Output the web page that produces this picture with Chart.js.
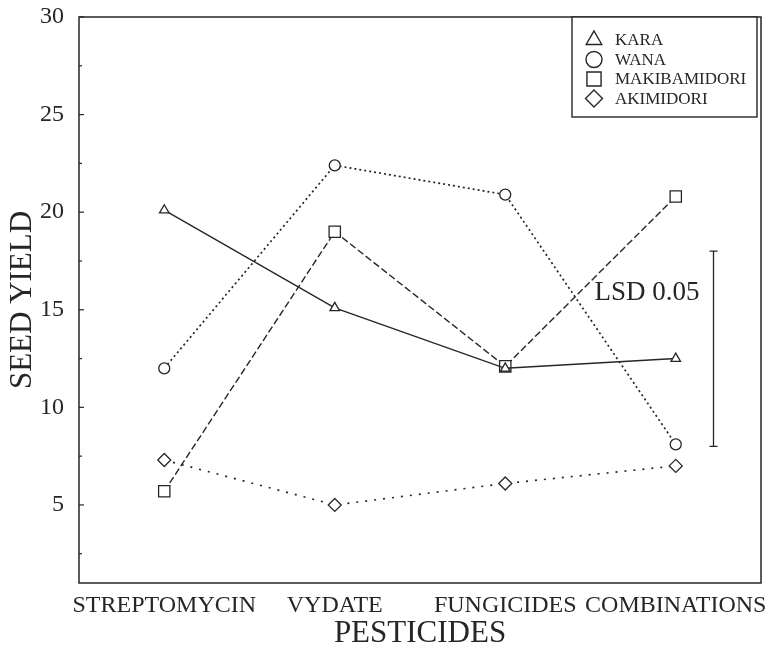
<!DOCTYPE html>
<html>
<head>
<meta charset="utf-8">
<script src="https://cdn.jsdelivr.net/npm/chart.js@4/dist/chart.umd.min.js"></script>
<style>
  html, body { margin: 0; padding: 0; background: #fff; }
  #wrap { width: 776px; height: 649px; }
</style>
</head>
<body>
<div id="wrap"><canvas id="seedChart" width="776" height="649"></canvas></div>
<script>
// data
const pesticides = ['STREPTOMYCIN', 'VYDATE', 'FUNGICIDES', 'COMBINATIONS'];
const kara = [20.1, 15.1, 12.0, 12.5];
const wana = [12.0, 22.4, 20.9, 8.1];
const makibamidori = [5.7, 19.0, 12.1, 20.8];
const akimidori = [7.3, 5.0, 6.1, 7.0];
const yTicks = [5, 10, 15, 20, 25, 30];
const yMinorTicks = [2.5, 7.5, 12.5, 17.5, 22.5, 27.5];
const lsdRange = [8, 18];
const lsdLabel = 'LSD 0.05';

const ink = '#262626';
const serif = "'Liberation Serif', 'Times New Roman', serif";

Chart.defaults.font.family = serif;
Chart.defaults.color = ink;

const series = [
    { label: 'KARA', data: kara, dash: [], width: 1.4, style: 'triangle', r: 5.5, legR: 9 },
    { label: 'WANA', data: wana, dash: [2, 3], width: 1.7, style: 'circle', r: 5.5, legR: 8 },
    { label: 'MAKIBAMIDORI', data: makibamidori, dash: [7, 3], width: 1.4, style: 'rect', r: 8, legR: 10 },
    { label: 'AKIMIDORI', data: akimidori, dash: [2, 7], width: 1.7, style: 'rectRot', r: 6.5, legR: 8.5 }
];

// frame, inward ticks, LSD bar and the boxed legend
const extrasPlugin = {
    id: 'extras',
    afterDraw(chart) {
        const ctx = chart.ctx;
        const a = chart.chartArea;
        const x = chart.scales.x;
        const y = chart.scales.y;
        ctx.save();
        ctx.strokeStyle = ink;
        ctx.fillStyle = ink;
        ctx.lineWidth = 1.5;
        ctx.setLineDash([]);
        ctx.strokeRect(a.left, a.top, a.right - a.left, a.bottom - a.top);

        ctx.lineWidth = 1.2;
        yTicks.forEach(v => {
            const py = y.getPixelForValue(v);
            ctx.beginPath(); ctx.moveTo(a.left, py); ctx.lineTo(a.left + 5, py); ctx.stroke();
        });
        yMinorTicks.forEach(v => {
            const py = y.getPixelForValue(v);
            ctx.beginPath(); ctx.moveTo(a.left, py); ctx.lineTo(a.left + 3, py); ctx.stroke();
        });

        // LSD bar
        const bx = Math.round(x.getPixelForValue(3.22)) + 0.5;
        const top = y.getPixelForValue(lsdRange[1]);
        const bot = y.getPixelForValue(lsdRange[0]);
        ctx.lineWidth = 1.3;
        ctx.beginPath();
        ctx.moveTo(bx, top); ctx.lineTo(bx, bot);
        ctx.moveTo(bx - 4, top); ctx.lineTo(bx + 4, top);
        ctx.moveTo(bx - 4, bot); ctx.lineTo(bx + 4, bot);
        ctx.stroke();
        ctx.font = '27px ' + serif;
        ctx.textAlign = 'right';
        ctx.textBaseline = 'middle';
        ctx.fillText(lsdLabel, bx - 14, y.getPixelForValue(15.85));

        // legend box
        const lx = a.right - 189, ly = a.top, lw = 185, lh = 100;
        ctx.fillStyle = '#fff';
        ctx.fillRect(lx, ly, lw, lh);
        ctx.lineWidth = 1.4;
        ctx.strokeRect(lx, ly, lw, lh);
        ctx.font = '17px ' + serif;
        ctx.textAlign = 'left';
        series.forEach((s, i) => {
            const rowY = ly + 23 + i * 19.5;
            ctx.fillStyle = '#fff';
            ctx.strokeStyle = ink;
            ctx.lineWidth = 1.4;
            Chart.helpers.drawPoint(ctx, { pointStyle: s.style, radius: s.legR, rotation: 0, borderWidth: 1.4 }, lx + 22, rowY);
            ctx.fillStyle = ink;
            ctx.fillText(s.label, lx + 43, rowY + 1);
        });
        ctx.restore();
    }
};

const ctx = document.getElementById('seedChart').getContext('2d');

new Chart(ctx, {
    type: 'line',
    data: {
        labels: pesticides,
        datasets: series.map(s => ({
            label: s.label,
            data: s.data,
            borderColor: ink,
            borderWidth: s.width,
            borderDash: s.dash,
            fill: false,
            tension: 0,
            pointStyle: s.style,
            pointRadius: s.r,
            pointBackgroundColor: '#fff',
            pointBorderColor: ink,
            pointBorderWidth: 1.3
        }))
    },
    options: {
        responsive: false,
        animation: false,
        devicePixelRatio: 1,
        layout: { padding: { top: 17, right: 15, left: 0, bottom: 0 } },
        plugins: {
            legend: { display: false },
            tooltip: { enabled: false }
        },
        scales: {
            x: {
                type: 'category',
                offset: true,
                grid: { display: false, drawTicks: false },
                border: { display: false },
                ticks: { font: { size: 24 }, padding: 8, maxRotation: 0, autoSkip: false, color: ink },
                title: {
                    display: true,
                    text: 'PESTICIDES',
                    font: { size: 31, lineHeight: 1 },
                    padding: { top: 0, bottom: 0 },
                    color: ink
                },
                afterFit: scale => {
                    scale.height = 66;
                    scale.paddingLeft = 0;
                    scale.paddingRight = 0;
                }
            },
            y: {
                min: 1,
                max: 30,
                grid: { display: false, drawTicks: false },
                border: { display: false },
                ticks: { font: { size: 24 }, padding: 15, color: ink },
                afterBuildTicks: scale => { scale.ticks = yTicks.map(v => ({ value: v })); },
                title: {
                    display: true,
                    text: 'SEED YIELD',
                    font: { size: 31, lineHeight: 1.2 },
                    padding: { top: 4, bottom: 0 },
                    color: ink
                },
                afterFit: scale => {
                    scale.width = 79;
                    scale.paddingTop = 0;
                    scale.paddingBottom = 0;
                }
            }
        }
    },
    plugins: [extrasPlugin]
});
</script>
</body>
</html>
